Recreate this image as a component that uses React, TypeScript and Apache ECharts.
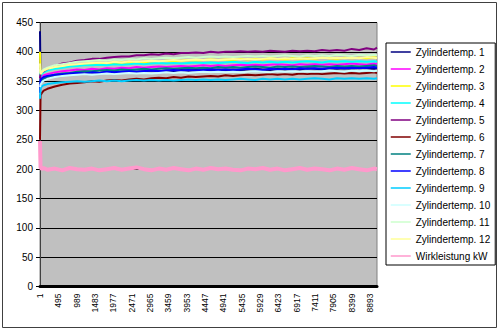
import React, { useEffect, useRef } from "react";
import * as echarts from "echarts";

// sample index (0-based) of each recorded point
const SAMPLE_IDX = [
  0, 15, 50, 100, 200, 400, 600, 800, 1000, 1200,
  1400, 1600, 1800, 2000, 2200, 2400, 2600, 2800, 3000, 3200,
  3400, 3600, 3800, 4000, 4200, 4400, 4600, 4800, 5000, 5200,
  5400, 5600, 5800, 6000, 6200, 6400, 6600, 6800, 7000, 7200,
  7400, 7600, 7800, 8000, 8200, 8400, 8600, 8800, 9000, 9080,
];

const Z1 = [435, 350, 352, 354, 356, 359, 361, 362, 364, 363,
  365, 364, 366, 365, 366, 367, 366, 367, 368, 367,
  368, 367, 369, 368, 369, 368, 369, 370, 369, 370,
  369, 370, 371, 370, 369, 371, 370, 371, 370, 372,
  371, 370, 372, 371, 372, 371, 373, 372, 371, 372];
const Z2 = [360, 356, 358, 360, 362, 365, 367, 368, 370, 369,
  371, 370, 372, 371, 373, 372, 374, 373, 374, 375,
  374, 375, 376, 375, 376, 377, 376, 377, 376, 377,
  378, 377, 378, 377, 378, 379, 378, 377, 379, 378,
  379, 378, 379, 378, 379, 380, 379, 378, 380, 379];
const Z3 = [400, 360, 364, 366, 369, 372, 374, 376, 377, 378,
  379, 380, 381, 380, 382, 381, 383, 382, 384, 383,
  385, 384, 385, 386, 385, 386, 387, 386, 387, 386,
  388, 387, 388, 387, 389, 388, 387, 389, 388, 389,
  388, 390, 389, 388, 390, 389, 390, 389, 391, 390];
const Z4 = [365, 358, 362, 365, 368, 371, 373, 375, 376, 377,
  377, 378, 377, 379, 378, 379, 380, 379, 380, 381,
  380, 381, 380, 381, 382, 381, 382, 381, 382, 383,
  382, 381, 383, 382, 383, 382, 383, 382, 383, 384,
  383, 382, 384, 383, 384, 383, 384, 383, 384, 383];
const Z5 = [355, 362, 366, 367, 371, 376, 380, 382, 385, 386,
  388, 388, 390, 391, 392, 392, 394, 394, 396, 395,
  397, 396, 398, 398, 399, 398, 400, 399, 400, 400,
  401, 400, 401, 400, 402, 401, 400, 402, 401, 402,
  401, 403, 402, 403, 402, 405, 403, 406, 404, 407];
const Z6 = [250, 326, 330, 334, 337, 341, 344, 346, 347, 348,
  350, 349, 351, 352, 351, 353, 354, 353, 355, 356,
  355, 357, 356, 358, 357, 358, 359, 358, 360, 359,
  360, 361, 360, 361, 362, 361, 362, 361, 363, 362,
  363, 362, 363, 364, 363, 364, 363, 364, 365, 364];
const Z7 = [345, 348, 352, 355, 358, 361, 363, 364, 366, 367,
  367, 368, 369, 368, 370, 369, 370, 371, 370, 371,
  372, 371, 372, 373, 372, 373, 372, 374, 373, 374,
  373, 374, 375, 374, 373, 375, 374, 375, 374, 375,
  376, 375, 374, 376, 375, 376, 375, 376, 377, 376];
const Z8 = [330, 352, 355, 357, 359, 361, 362, 363, 364, 363,
  365, 364, 366, 365, 366, 367, 366, 367, 368, 367,
  368, 369, 368, 369, 368, 369, 370, 369, 370, 369,
  370, 371, 370, 369, 371, 370, 371, 370, 372, 371,
  372, 371, 372, 373, 372, 373, 372, 373, 374, 373];
const Z9 = [320, 338, 341, 343, 345, 347, 348, 349, 350, 349,
  350, 351, 350, 351, 350, 351, 352, 351, 352, 351,
  352, 351, 352, 353, 352, 353, 352, 353, 352, 353,
  354, 353, 352, 354, 353, 354, 353, 354, 353, 354,
  355, 354, 353, 355, 354, 355, 354, 355, 354, 355];
const Z10 = [340, 344, 348, 351, 354, 357, 359, 360, 361, 362,
  361, 362, 363, 362, 363, 364, 363, 364, 363, 364,
  365, 364, 365, 364, 365, 366, 365, 366, 365, 366,
  365, 366, 367, 366, 365, 367, 366, 367, 366, 367,
  366, 367, 368, 367, 366, 368, 367, 368, 367, 368];
const Z11 = [370, 364, 367, 370, 373, 377, 379, 381, 383, 384,
  385, 386, 385, 387, 386, 388, 387, 389, 388, 389,
  390, 389, 390, 391, 390, 391, 392, 391, 392, 391,
  392, 393, 392, 393, 392, 393, 394, 393, 392, 394,
  393, 394, 393, 395, 394, 393, 395, 394, 395, 394];
const Z12 = [380, 362, 365, 368, 371, 374, 376, 378, 379, 380,
  381, 382, 381, 383, 382, 384, 383, 384, 385, 384,
  385, 386, 385, 386, 387, 386, 387, 386, 387, 388,
  387, 388, 387, 388, 389, 388, 389, 388, 389, 388,
  389, 390, 389, 390, 389, 390, 389, 391, 390, 389];
const WIRK = [248, 203, 200, 202, 199, 201, 198, 202, 200, 199,
  201, 198, 200, 202, 199, 201, 203, 200, 198, 201,
  199, 202, 200, 198, 201, 199, 202, 200, 201, 199,
  198, 201, 200, 202, 199, 201, 198, 200, 202, 199,
  201, 200, 198, 201, 199, 202, 200, 198, 201, 200];

const SERIES_NAMES = [
  "Zylindertemp. 1", "Zylindertemp. 2", "Zylindertemp. 3", "Zylindertemp. 4",
  "Zylindertemp. 5", "Zylindertemp. 6", "Zylindertemp. 7", "Zylindertemp. 8",
  "Zylindertemp. 9", "Zylindertemp. 10", "Zylindertemp. 11", "Zylindertemp. 12",
  "Wirkleistung kW",
];
const SERIES_VALUES = [Z1, Z2, Z3, Z4, Z5, Z6, Z7, Z8, Z9, Z10, Z11, Z12, WIRK];
const SERIES_COLORS = [
  "#000080", "#FF00FF", "#FFFF00", "#00FFFF", "#800080", "#800000", "#008080",
  "#0000FF", "#00CCFF", "#CCFFFF", "#CCFFCC", "#FFFF99", "#FF99CC",
];

const X_TICK_STEP = 494;
const X_MAX = 9080;
const Y_MAX = 450;
const Y_STEP = 50;

export default function App() {
  const ref = useRef<HTMLDivElement>(null);
  useEffect(() => {
    document.body.style.margin = "0";
    const chart = echarts.init(ref.current!, null, { renderer: "svg" });
    const font = "Liberation Sans, Arial, sans-serif";
    chart.setOption({
      animation: false,
      backgroundColor: "#ffffff",
      graphic: [
        {
          type: "rect",
          shape: { x: 2.5, y: 2.5, width: 494, height: 325 },
          style: { fill: "none", stroke: "#404040", lineWidth: 1 },
          silent: true,
        },
      ],
      grid: {
        left: 40,
        top: 22.5,
        width: 337,
        height: 264,
        show: true,
        backgroundColor: "#C0C0C0",
        borderColor: "#808080",
        borderWidth: 1,
      },
      legend: {
        orient: "vertical",
        left: 386,
        top: 43,
        padding: [4, 5, 4, 4],
        itemWidth: 20,
        itemHeight: 10,
        itemGap: 7,
        backgroundColor: "#ffffff",
        borderColor: "#000000",
        borderWidth: 1,
        borderRadius: 0,
        itemStyle: { opacity: 0 },
        lineStyle: { width: 1.5 },
        textStyle: { fontFamily: font, fontSize: 10, color: "#000" },
        data: SERIES_NAMES,
      },
      xAxis: {
        type: "value",
        min: 0,
        max: X_MAX,
        interval: X_TICK_STEP,
        splitLine: { show: false },
        axisLine: { show: true, onZero: false, lineStyle: { color: "#000", width: 3 } },
        axisTick: { show: false },
        axisLabel: {
          rotate: 90,
          margin: 7,
          fontFamily: font,
          fontSize: 8.5,
          color: "#000",
          formatter: (v: number) => (v % X_TICK_STEP === 0 ? String(v + 1) : ""),
        },
      },
      yAxis: {
        type: "value",
        min: 0,
        max: Y_MAX,
        interval: Y_STEP,
        splitLine: { show: true, lineStyle: { color: "#000", width: 1 } },
        axisLine: { show: true, lineStyle: { color: "#404040", width: 1 } },
        axisTick: { show: true, inside: false, length: 4, lineStyle: { color: "#000" } },
        axisLabel: { margin: 7, fontFamily: font, fontSize: 10, color: "#000" },
      },
      series: SERIES_NAMES.map((name, i) => ({
        name,
        type: "line",
        symbol: "none",
        showSymbol: false,
        color: SERIES_COLORS[i],
        lineStyle: { width: i === 12 ? 4 : 2, color: SERIES_COLORS[i] },
        data: SAMPLE_IDX.map((x, k) => [x, SERIES_VALUES[i][k]]),
      })),
    });
    return () => chart.dispose();
  }, []);
  return <div ref={ref} style={{ width: 500, height: 331 }} />;
}
